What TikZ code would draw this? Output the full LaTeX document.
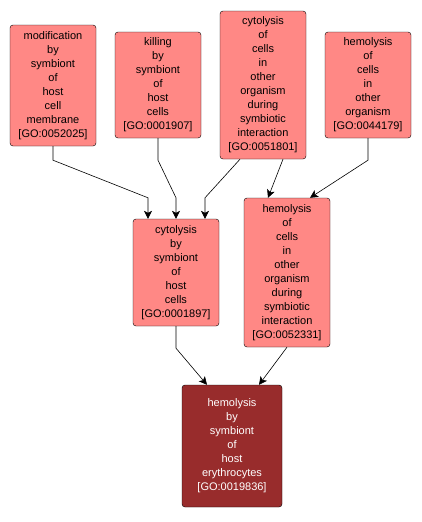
\documentclass[tikz,border=0pt]{standalone}
\usepackage{fontspec}
\setmainfont{Liberation Sans}
\usetikzlibrary{arrows.meta,calc}
\definecolor{GoPink}{RGB}{255,136,133}
\definecolor{GoDark}{RGB}{152,44,44}

\begin{document}
\begin{tikzpicture}[x=1pt,y=-1pt,
  term/.style={draw=black,fill=GoPink,rounded corners=3pt,align=center,minimum width=86pt,inner sep=0pt,font=\fontsize{11}{14}\selectfont},
  isa/.style={-{Stealth[length=8pt,width=8pt,inset=2pt]},semithick}]
\useasboundingbox (0,0) rectangle (421,522);
% upper row
\node[term,minimum height=121pt] (mod) at (53,85.5) {modification\\by\\symbiont\\of\\host\\cell\\membrane\\{[GO:0052025]}};
\node[term,minimum height=106pt] (kill) at (158,85) {killing\\by\\symbiont\\of\\host\\cells\\{[GO:0001907]}};
\node[term,minimum height=148pt] (cyto) at (263,85) {cytolysis\\of\\cells\\in\\other\\organism\\during\\symbiotic\\interaction\\{[GO:0051801]}};
\node[term,minimum height=106pt] (hemo) at (368,85) {hemolysis\\of\\cells\\in\\other\\organism\\{[GO:0044179]}};
% middle row
\node[term,minimum height=107pt] (cytohost) at (176,272.5) {cytolysis\\by\\symbiont\\of\\host\\cells\\{[GO:0001897]}};
\node[term,minimum height=149pt] (hemosym) at (287,272.5) {hemolysis\\of\\cells\\in\\other\\organism\\during\\symbiotic\\interaction\\{[GO:0052331]}};
% bottom
\node[term,fill=GoDark,text=white,minimum width=100pt,minimum height=122pt] (ery) at (232,446) {hemolysis\\by\\symbiont\\of\\host\\erythrocytes\\{[GO:0019836]}};
% edges
\draw[isa] (mod.south) -- ++(0,14) -- ([xshift=-28pt,yshift=21pt]cytohost.north) -- ([xshift=-28pt]cytohost.north);
\draw[isa] (kill.south) -- ++(0,22) -- ([yshift=21pt]cytohost.north) -- (cytohost.north);
\draw[isa] ([xshift=-23pt]cyto.south) -- ([xshift=29pt,yshift=21pt]cytohost.north) -- ([xshift=29pt]cytohost.north);
\draw[isa] ([xshift=20pt]cyto.south) -- ([xshift=-19pt]hemosym.north);
\draw[isa] (hemo.south) -- ++(0,22) -- ([xshift=23pt]hemosym.north);
\draw[isa] (cytohost.south) -- ++(0,22) -- ([xshift=-25pt]ery.north);
\draw[isa] (hemosym.south) -- ([xshift=27pt]ery.north);
\end{tikzpicture}
\end{document}
